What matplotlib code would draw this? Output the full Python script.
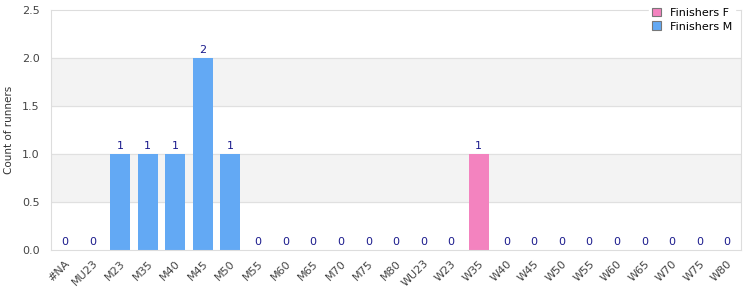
import numpy as np
import matplotlib.pyplot as plt

categories = ["#NA", "MU23", "M23", "M35", "M40", "M45", "M50", "M55", "M60", "M65",
              "M70", "M75", "M80", "WU23", "W23", "W35", "W40", "W45", "W50", "W55",
              "W60", "W65", "W70", "W75", "W80"]
finishers_m = [0, 0, 1, 1, 1, 2, 1, 0, 0, 0, 0, 0, 0, 0, 0, 0, 0, 0, 0, 0, 0, 0, 0, 0, 0]
finishers_f = [0, 0, 0, 0, 0, 0, 0, 0, 0, 0, 0, 0, 0, 0, 0, 1, 0, 0, 0, 0, 0, 0, 0, 0, 0]

fig = plt.figure(figsize=(7.5, 3), dpi=100)
ax = fig.add_axes([0.068, 0.167, 0.920, 0.800])

x = np.arange(len(categories))
m = np.array(finishers_m)
f = np.array(finishers_f)

# alternating background bands
for lo in [0.5, 1.5]:
    ax.axhspan(lo, lo + 0.5, color="#f3f3f3", zorder=0)
for yv in [0.5, 1.0, 1.5, 2.0]:
    ax.axhline(yv, color="#e0e0e0", lw=0.8, zorder=0.5)

ax.bar(x, f, width=0.72, color="#f383bf", label="Finishers F", zorder=2)
ax.bar(x, m, width=0.72, bottom=f, color="#63a9f4", label="Finishers M", zorder=2)

total = m + f
for xi, t in zip(x, total):
    ax.text(xi, t + 0.03, str(t), ha="center", va="bottom", fontsize=8, color="#1a1a8c")

ax.set_xlim(-0.5, len(categories) - 0.5)
ax.set_ylim(0, 2.5)
ax.set_yticks([0, 0.5, 1.0, 1.5, 2.0, 2.5])
ax.set_yticklabels(["0.0", "0.5", "1.0", "1.5", "2.0", "2.5"])
ax.set_xticks(x)
ax.set_xticklabels(categories, rotation=45, ha="right", rotation_mode="anchor")
ax.tick_params(axis="both", length=0, labelsize=8, labelcolor="#444444")
ax.tick_params(axis="x", pad=6)
ax.tick_params(axis="y", pad=8)
ax.set_ylabel("Count of runners", fontsize=7.5, color="#333333", labelpad=6)

for s in ax.spines.values():
    s.set_color("#dddddd")

leg = ax.legend(loc="upper right", bbox_to_anchor=(1.0, 1.045), fontsize=8, frameon=True,
                fancybox=False, handlelength=0.8, handleheight=0.8, borderpad=0.3,
                labelspacing=0.3, framealpha=1)
leg.get_frame().set_edgecolor("white")
for h in leg.legend_handles:
    h.set_edgecolor("#777777")
    h.set_linewidth(0.8)

fig.savefig("out.png", dpi=100)
